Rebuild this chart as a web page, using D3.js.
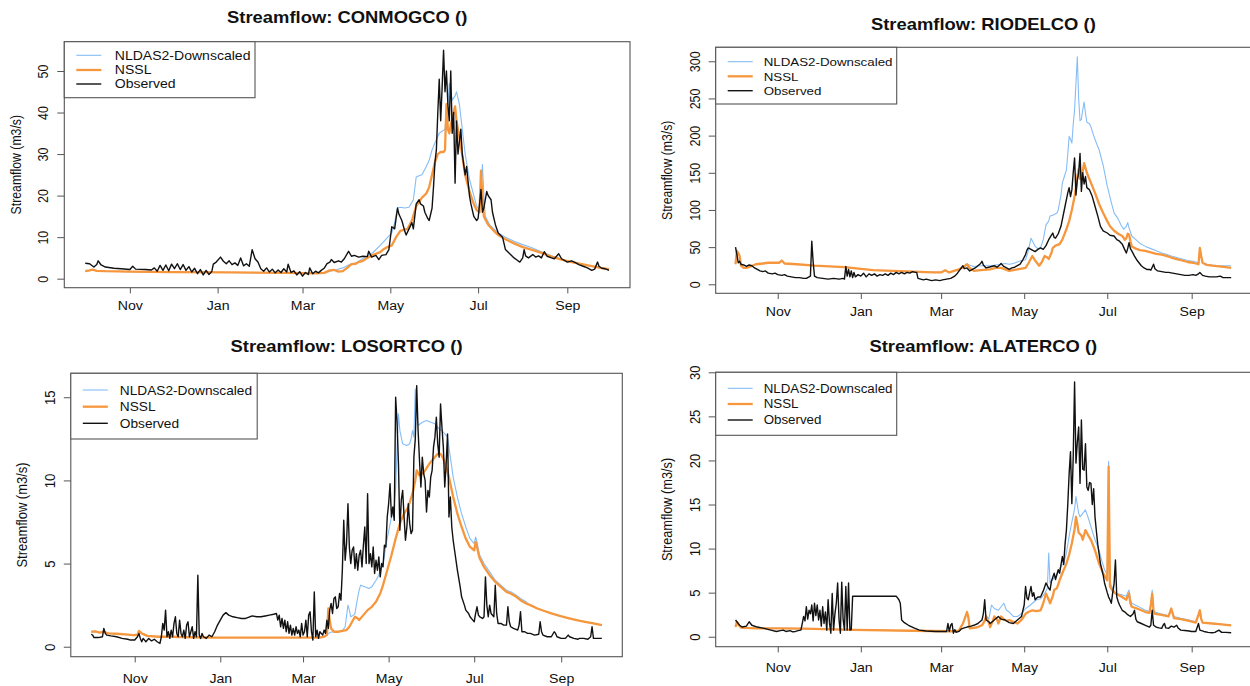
<!DOCTYPE html>
<html lang="en">
<head>
<meta charset="UTF-8">
<title>Streamflow</title>
<script src="https://d3js.org/d3.v7.min.js"></script>
<style>
  body { margin: 0; background: #fff; }
  text { font-family: "Liberation Sans", Arial, sans-serif; fill: #111; }
</style>
</head>
<body>
<svg id="chart" width="1250" height="686"></svg>
<script>
// water year Oct 2013 - Sep 2014, values as [day since Oct 1, m3/s]
var seriesNames = ["NLDAS2-Downscaled", "NSSL", "Observed"];
var monthTicks = ["2013-11-01", "2014-01-01", "2014-03-01", "2014-05-01", "2014-07-01", "2014-09-01"];

// ---- CONMOGCO
var conmogcoTicks = [0, 10, 20, 30, 40, 50];
var conmogcoObs = [[0,3.7],[3,3.6],[6,2.8],[8,3.4],[9,4.3],[11,3.3],[14,2.8],[20,2.5],[25,2.4],[31,2.2],[33,3.0],[35,2.3],[42,2.2],[46,2.1],[48,2.6],[50,1.8],[52,3.2],[54,2.0],[56,3.3],[58,1.9],[60,3.5],[62,2.4],[64,3.6],[66,2.2],[68,3.4],[70,2.0],[72,2.9],[74,1.6],[76,2.5],[78,1.2],[80,2.2],[82,0.9],[84,2.0],[86,1.0],[88,1.8],[89,3.5],[91,4.0],[94,5.2],[96,4.2],[98,3.6],[100,4.3],[102,3.4],[104,3.8],[106,3.2],[108,5.0],[110,3.1],[112,3.6],[114,3.0],[116,7.0],[118,4.8],[120,4.0],[122,2.4],[124,1.8],[126,2.6],[128,1.6],[130,2.3],[132,1.4],[134,2.1],[136,1.5],[138,2.4],[140,1.6],[141,3.5],[143,1.5],[145,1.9],[147,0.9],[149,1.7],[151,0.6],[153,1.5],[155,1.0],[156,2.6],[158,1.2],[160,1.8],[162,1.4],[164,2.0],[166,2.5],[168,3.6],[170,4.0],[171,4.6],[173,3.9],[176,4.3],[178,4.0],[180,4.8],[183,6.6],[185,5.4],[187,5.6],[190,5.2],[193,5.4],[196,5.3],[197,6.6],[199,5.2],[202,5.6],[204,4.6],[206,5.6],[209,5.8],[211,7.0],[213,12.5],[215,12.0],[217,17.0],[218,15.5],[220,14.0],[222,11.5],[223,10.5],[225,12.0],[227,13.5],[228,12.0],[230,18.0],[232,19.0],[233,18.0],[235,17.5],[236,16.0],[238,14.5],[239,14.0],[241,17.0],[242,22.0],[243,28.0],[244,31.0],[245,40.0],[246,48.0],[247,38.0],[248,46.0],[249,55.0],[250,45.0],[251,50.0],[252,42.0],[253,38.0],[254,50.0],[255,35.0],[256,40.0],[257,23.0],[258,38.0],[259,30.0],[260,33.0],[261,36.0],[262,30.0],[264,25.0],[265,27.0],[267,20.0],[268,18.0],[270,15.0],[272,14.0],[273,14.5],[275,21.5],[276,16.0],[277,17.0],[279,21.0],[280,20.0],[282,19.0],[283,16.0],[285,13.0],[287,11.0],[290,10.0],[292,7.0],[295,6.0],[298,5.0],[300,4.5],[302,4.0],[304,5.0],[305,7.0],[306,5.5],[308,5.0],[311,5.8],[313,5.2],[315,5.5],[317,5.0],[319,6.5],[321,5.4],[324,5.0],[326,4.8],[329,6.0],[331,4.8],[335,4.0],[338,4.3],[341,3.8],[343,3.4],[346,3.0],[349,2.6],[352,2.0],[354,2.3],[356,4.0],[357,3.0],[359,2.5],[361,2.4],[364,2.0]];
var conmogcoNssl = [[0,1.8],[3,2.0],[5,2.2],[8,1.9],[14,1.8],[31,1.7],[60,1.6],[100,1.5],[140,1.4],[160,1.3],[166,1.4],[170,2.0],[173,2.1],[176,1.7],[179,1.8],[182,2.6],[185,3.5],[188,3.6],[190,4.0],[193,4.3],[196,5.0],[199,5.6],[202,6.0],[205,6.4],[207,7.0],[210,7.6],[213,8.0],[216,10.0],[219,11.5],[222,11.8],[224,12.0],[227,14.0],[230,17.5],[232,18.5],[234,19.5],[237,20.5],[239,22.0],[241,25.0],[243,28.0],[245,30.0],[247,30.5],[249,30.5],[250,31.0],[251,42.0],[252,36.0],[253,35.0],[254,37.0],[256,40.0],[257,41.5],[258,38.0],[260,34.0],[261,32.0],[264,25.0],[267,21.0],[270,18.0],[272,16.5],[274,16.0],[275,26.0],[276,20.0],[277,15.0],[280,13.0],[284,11.5],[287,10.5],[292,9.5],[298,8.5],[304,7.6],[310,7.0],[317,6.2],[324,5.3],[331,4.6],[338,4.0],[345,3.5],[352,3.0],[358,2.6],[364,2.3]];
var conmogcoNldas = [[0,1.8],[3,2.0],[5,2.2],[8,1.9],[14,1.8],[31,1.7],[60,1.6],[100,1.5],[140,1.4],[160,1.3],[166,1.4],[170,1.8],[175,2.2],[179,2.6],[183,3.3],[188,3.8],[192,4.6],[196,5.5],[200,6.3],[205,8.0],[209,9.5],[213,11.0],[215,13.5],[217,17.0],[219,17.2],[222,17.0],[225,17.2],[228,19.0],[230,24.5],[232,24.8],[234,25.0],[237,27.0],[239,28.5],[241,31.0],[244,33.5],[246,35.0],[248,35.5],[250,36.0],[252,42.0],[253,47.0],[255,43.0],[257,44.0],[258,45.0],[260,42.0],[262,36.0],[264,30.0],[267,24.0],[270,20.0],[272,17.5],[274,16.5],[276,27.5],[277,20.0],[278,15.0],[281,13.0],[284,12.0],[287,11.0],[292,10.0],[298,9.0],[304,8.2],[310,7.5],[317,6.5],[324,5.5],[331,4.7],[338,4.0],[345,3.5],[352,3.0],[358,2.6],[364,2.3]];

// ---- RIODELCO
var riodelcoTicks = [0, 50, 100, 150, 200, 250, 300];
var riodelcoObs = [[0,50],[1,40],[2,29],[3,31],[4,27],[6,26],[8,24],[10,26],[12,25],[14,22],[16,20],[18,18],[20,17],[22,18],[24,15],[27,14],[29,15],[31,13],[34,12],[36,13],[38,11],[41,10],[44,9],[47,9],[50,8],[52,8],[54,10],[55,11],[56,58],[57,30],[58,11],[60,9],[64,8],[68,7],[72,8],[76,7],[79,8],[80,7],[81,24],[82,11],[83,20],[84,10],[85,18],[86,9],[87,16],[88,10],[90,13],[92,11],[94,15],[96,10],[98,14],[100,12],[102,14],[104,11],[106,13],[108,12],[110,14],[112,12],[114,15],[116,13],[118,16],[120,14],[122,16],[124,14],[126,16],[128,15],[130,17],[132,16],[133,16],[134,8],[136,7],[138,6],[140,7],[142,6],[144,5],[147,6],[150,5],[152,6],[155,7],[158,8],[161,11],[163,15],[165,20],[167,25],[168,21],[170,22],[172,18],[174,20],[176,22],[178,25],[180,28],[181,31],[182,26],[184,22],[186,23],[188,24],[190,25],[192,23],[194,26],[195,28],[197,24],[199,22],[201,20],[203,22],[205,23],[207,25],[209,27],[211,33],[213,40],[214,46],[215,49],[217,47],[218,46],[220,44],[222,47],[224,49],[226,47],[228,52],[230,60],[232,66],[233,69],[234,63],[235,62],[237,68],[239,78],[240,87],[242,105],[244,123],[245,130],[246,118],[247,127],[248,150],[249,170],[250,120],[251,140],[252,150],[253,176],[254,125],[255,150],[256,135],[257,145],[258,130],[260,127],[262,118],[264,105],[266,92],[268,78],[270,72],[273,69],[275,66],[278,65],[280,60],[282,58],[284,54],[286,46],[287,42],[288,48],[289,56],[290,48],[291,45],[293,38],[295,32],[298,25],[300,22],[302,20],[304,20],[305,19],[307,27],[308,21],[310,18],[313,17],[316,16],[318,16],[321,15],[324,14],[327,13],[330,12],[333,12],[336,13],[338,12],[340,14],[341,16],[343,12],[345,11],[348,10],[351,10],[353,10],[356,11],[358,9],[361,9],[364,9]];
var riodelcoNssl = [[0,27],[1,45],[2,42],[3,38],[4,25],[6,22],[8,22],[11,24],[15,27],[20,28],[24,29],[28,29],[32,29],[34,32],[36,28],[45,27],[58,25],[80,23],[101,19],[130,17],[145,16],[151,16],[154,19],[157,16],[164,20],[168,24],[170,27],[172,22],[175,18],[180,19],[187,20],[191,22],[195,22],[198,20],[201,18],[204,19],[207,20],[210,21],[213,22],[215,28],[218,38],[220,32],[223,25],[225,30],[227,38],[229,36],[230,34],[232,42],[233,49],[235,52],[238,54],[240,60],[243,74],[245,85],[247,100],[249,118],[250,130],[251,145],[252,155],[253,142],[254,145],[255,152],[256,163],[258,150],[260,141],[262,132],[264,123],[267,108],[270,96],[273,85],[275,78],[278,72],[281,68],[284,65],[286,60],[287,62],[288,68],[289,67],[290,58],[291,51],[294,48],[297,46],[301,45],[305,43],[309,41],[313,40],[317,38],[320,36],[324,34],[328,32],[332,30],[336,29],[338,28],[340,27],[341,49],[342,38],[343,29],[346,26],[350,25],[355,24],[360,23],[364,22]];
var riodelcoNldas = [[0,27],[1,45],[2,42],[3,38],[4,25],[6,22],[8,22],[11,24],[15,27],[20,28],[24,29],[28,29],[32,29],[34,32],[36,28],[45,27],[58,25],[80,23],[101,19],[130,17],[145,16],[151,16],[154,19],[157,16],[164,20],[168,24],[170,27],[175,24],[180,25],[187,25],[191,26],[195,27],[198,28],[201,27],[204,28],[207,30],[210,32],[213,33],[215,45],[217,62],[219,55],[220,51],[222,48],[224,49],[226,60],[228,80],[230,85],[231,92],[233,93],[234,94],[236,96],[237,100],[239,120],[240,136],[242,148],[243,154],[244,175],[245,199],[246,195],[247,190],[248,215],[249,235],[250,270],[251,306],[252,250],[253,220],[254,222],[255,235],[256,245],[257,230],[258,218],[260,216],[261,212],[263,200],[265,190],[267,181],[270,160],[273,132],[276,110],[278,96],[281,88],[283,80],[285,74],[287,78],[288,83],[289,76],[291,65],[294,60],[297,55],[301,51],[305,48],[309,45],[313,42],[317,40],[320,38],[324,36],[328,34],[332,32],[336,31],[338,30],[340,29],[341,48],[342,36],[343,29],[346,27],[350,26],[355,25],[360,25],[364,25]];

// ---- LOSORTCO
var losortcoTicks = [0, 5, 10, 15];
var losortcoObs = [[0,0.75],[1,0.7],[2,0.55],[5,0.55],[8,0.6],[9,1.1],[10,0.8],[11,0.7],[14,0.65],[18,0.6],[22,0.5],[26,0.45],[28,0.4],[31,0.4],[33,0.6],[34,0.8],[35,0.5],[36,0.3],[37,0.5],[39,0.3],[41,0.5],[43,0.35],[45,0.45],[47,0.3],[49,0.2],[50,0.6],[51,1.4],[52,1.0],[53,2.2],[54,0.6],[55,0.9],[56,0.5],[57,1.0],[58,0.6],[59,1.4],[60,1.8],[61,0.8],[62,0.6],[63,1.6],[64,0.8],[65,0.6],[66,1.0],[67,0.5],[68,1.3],[69,1.5],[70,0.6],[71,0.9],[72,1.2],[73,0.5],[74,0.9],[75,0.6],[76,4.3],[77,0.7],[78,0.5],[79,0.8],[80,0.6],[82,0.5],[84,0.7],[86,0.6],[88,0.9],[90,1.3],[92,1.6],[94,1.9],[96,2.05],[98,1.9],[101,1.8],[104,1.75],[107,1.7],[110,1.7],[113,1.8],[115,1.85],[118,1.8],[121,1.8],[124,1.85],[127,1.9],[130,1.95],[132,2.0],[133,1.6],[134,1.9],[135,1.2],[136,1.7],[137,1.1],[138,1.6],[139,0.9],[140,1.5],[141,0.8],[142,1.3],[143,0.7],[144,1.1],[145,0.7],[146,1.2],[147,0.8],[148,1.0],[149,0.6],[150,1.4],[151,0.7],[152,0.9],[153,1.6],[154,0.6],[155,1.9],[156,2.1],[157,0.9],[158,0.4],[159,3.3],[160,0.6],[161,1.0],[162,0.5],[163,0.9],[165,0.7],[166,1.0],[167,0.8],[168,1.6],[169,1.1],[170,2.2],[171,2.6],[172,2.0],[173,2.9],[174,3.0],[175,2.3],[176,2.4],[177,3.2],[178,2.8],[179,4.6],[180,7.6],[181,5.2],[182,6.2],[183,8.6],[184,6.0],[185,5.0],[186,5.8],[187,6.0],[188,4.7],[189,5.6],[190,4.6],[191,5.5],[192,5.8],[193,4.8],[194,6.1],[195,7.2],[196,5.0],[197,9.2],[198,5.0],[199,5.6],[200,4.8],[201,6.0],[202,4.4],[203,5.2],[204,4.6],[205,5.4],[206,4.2],[207,5.0],[208,4.8],[209,6.1],[210,6.0],[211,7.8],[212,8.6],[213,9.8],[214,7.8],[215,8.4],[216,7.6],[217,15.0],[218,13.5],[219,11.0],[220,7.0],[221,8.8],[222,9.4],[223,7.8],[224,6.4],[225,7.2],[226,8.6],[227,7.4],[228,6.8],[229,7.0],[230,11.4],[231,12.5],[232,15.7],[233,13.0],[234,11.2],[235,9.6],[236,11.4],[237,10.4],[238,10.0],[239,8.1],[240,9.4],[241,9.0],[242,10.2],[243,10.6],[244,12.0],[245,12.6],[246,13.8],[247,12.2],[248,11.4],[249,14.6],[250,13.2],[251,12.0],[252,9.6],[253,11.0],[254,12.8],[255,7.8],[256,9.0],[257,7.2],[258,6.4],[259,5.8],[261,4.6],[263,3.6],[264,3.0],[266,2.5],[267,2.2],[269,2.0],[270,1.8],[272,1.6],[273,1.5],[274,2.0],[275,2.4],[276,1.9],[277,1.8],[279,1.7],[280,1.8],[281,4.2],[282,2.5],[283,1.8],[284,2.5],[285,2.0],[287,1.8],[288,3.7],[289,2.0],[290,1.4],[292,1.4],[294,1.3],[296,1.3],[297,2.4],[298,1.5],[299,1.2],[301,1.1],[304,1.0],[305,1.3],[306,2.1],[307,0.9],[309,0.9],[311,0.8],[313,0.8],[316,0.7],[319,0.75],[320,1.5],[321,0.9],[322,0.7],[325,0.6],[328,0.6],[330,0.9],[331,0.8],[332,0.6],[335,0.5],[338,0.5],[340,0.7],[341,0.6],[344,0.5],[347,0.45],[348,0.5],[351,0.5],[354,0.45],[356,0.6],[357,1.2],[358,0.5],[361,0.5],[364,0.5]];
var losortcoNssl = [[0,0.9],[3,0.92],[6,0.85],[9,0.9],[12,0.8],[18,0.78],[24,0.74],[30,0.7],[33,0.72],[34,0.95],[36,0.8],[40,0.65],[48,0.6],[57,0.6],[70,0.57],[90,0.55],[120,0.55],[150,0.55],[163,0.55],[166,0.6],[168,0.7],[169,2.3],[170,1.6],[171,1.1],[173,0.9],[176,0.9],[179,0.95],[182,1.0],[184,1.2],[186,1.5],[188,1.8],[190,1.7],[191,1.6],[194,1.9],[197,2.2],[200,2.4],[203,2.7],[206,3.2],[208,3.7],[211,4.6],[214,5.5],[217,6.5],[220,7.4],[223,8.0],[226,8.4],[229,9.2],[231,10.0],[232,10.6],[234,10.3],[236,10.4],[238,10.6],[241,11.0],[244,11.3],[247,11.6],[249,11.6],[251,11.3],[253,10.8],[255,10.2],[258,9.0],[261,8.0],[264,7.2],[267,6.5],[270,6.0],[273,5.8],[274,6.3],[275,6.0],[276,5.6],[277,5.3],[280,4.8],[284,4.3],[288,3.9],[292,3.6],[296,3.3],[299,3.2],[303,3.0],[306,2.8],[310,2.6],[313,2.5],[318,2.3],[323,2.15],[328,2.0],[334,1.85],[340,1.72],[346,1.6],[352,1.5],[358,1.4],[364,1.3]];
var losortcoNldas = [[0,0.9],[3,0.92],[6,0.85],[9,0.9],[12,0.8],[18,0.78],[24,0.74],[30,0.7],[33,0.72],[34,0.95],[36,0.8],[40,0.65],[48,0.6],[57,0.6],[70,0.57],[90,0.55],[120,0.55],[150,0.55],[163,0.55],[166,0.6],[168,0.7],[170,0.85],[173,0.9],[176,0.9],[179,0.95],[181,1.2],[183,2.5],[184,2.2],[185,1.8],[187,1.9],[188,2.0],[190,3.0],[191,3.4],[192,3.7],[195,3.6],[198,3.5],[200,3.6],[203,4.0],[205,4.3],[208,5.0],[211,6.5],[214,7.8],[216,8.5],[217,9.5],[218,12.0],[219,14.0],[220,13.0],[222,12.2],[225,12.1],[227,12.2],[228,12.5],[229,13.0],[230,12.6],[231,15.5],[232,14.0],[233,13.3],[236,13.5],[239,13.6],[242,13.5],[245,13.4],[248,13.1],[250,13.0],[252,12.8],[254,12.6],[255,12.0],[256,11.4],[258,10.2],[261,9.0],[264,8.0],[267,7.2],[270,6.5],[273,6.2],[274,6.6],[275,6.3],[276,5.8],[277,5.5],[280,5.0],[284,4.5],[288,4.0],[292,3.7],[296,3.4],[299,3.3],[303,3.1],[306,2.9],[310,2.7],[313,2.5],[318,2.3],[323,2.15],[328,2.0],[334,1.85],[340,1.72],[346,1.6],[352,1.5],[358,1.4],[364,1.3]];

// ---- ALATERCO
var alatercoTicks = [0, 5, 10, 15, 20, 25, 30];
var alatercoObs = [[0,1.9],[1,1.7],[3,1.3],[5,1.1],[8,1.2],[10,1.7],[11,1.5],[12,1.3],[16,1.1],[21,0.95],[26,0.75],[30,0.6],[33,0.7],[35,0.75],[37,0.6],[40,0.7],[42,0.55],[44,0.6],[46,0.7],[48,0.75],[49,1.5],[50,2.3],[51,1.8],[52,3.4],[53,2.0],[54,3.0],[55,2.6],[56,3.6],[57,1.8],[58,3.8],[59,2.4],[60,3.6],[61,1.9],[62,3.0],[63,1.2],[64,3.4],[65,1.5],[66,2.8],[67,0.75],[68,4.2],[69,1.6],[70,0.4],[71,4.9],[72,0.75],[73,2.6],[74,3.8],[75,6.1],[76,2.0],[77,0.4],[78,6.2],[79,2.0],[80,0.75],[81,5.7],[82,0.75],[83,6.1],[84,0.75],[85,0.8],[86,4.6],[118,4.6],[120,4.2],[121,3.8],[122,1.9],[124,1.6],[127,1.3],[131,1.0],[135,0.75],[140,0.65],[147,0.6],[155,0.6],[156,1.5],[157,0.6],[158,1.3],[159,1.5],[160,0.4],[161,0.8],[162,0.5],[164,0.6],[166,0.9],[168,1.0],[170,1.1],[173,1.2],[175,1.3],[178,1.5],[181,1.9],[182,2.6],[183,4.2],[184,1.9],[186,1.7],[187,1.5],[190,1.9],[193,2.3],[195,2.0],[198,1.9],[201,1.6],[204,1.5],[207,1.9],[210,2.3],[212,3.6],[213,5.7],[214,4.4],[215,4.2],[216,5.0],[217,5.7],[218,4.6],[219,5.0],[220,4.2],[222,4.5],[224,4.5],[226,5.2],[228,6.1],[230,5.5],[231,5.3],[232,6.3],[234,7.2],[235,6.5],[237,7.6],[238,7.2],[240,9.1],[241,8.2],[242,10.5],[243,12.1],[244,15.0],[245,18.5],[246,21.0],[247,15.1],[248,20.4],[249,28.9],[250,19.7],[251,22.0],[252,23.8],[253,17.4],[254,24.6],[255,19.0],[256,18.9],[257,21.9],[258,17.0],[259,16.6],[260,17.5],[261,17.4],[262,15.0],[263,16.8],[264,13.6],[265,12.0],[266,10.5],[268,8.3],[270,7.0],[271,6.1],[273,5.0],[274,4.5],[275,4.2],[276,3.8],[277,5.0],[278,6.0],[279,8.7],[280,4.5],[281,4.0],[282,3.6],[284,3.0],[286,2.8],[288,2.5],[290,2.3],[292,2.6],[293,3.0],[294,2.0],[295,1.7],[298,1.5],[301,1.3],[304,1.1],[305,1.3],[306,3.0],[307,1.3],[309,1.1],[311,1.0],[313,0.95],[314,1.3],[315,1.5],[316,1.0],[318,0.95],[320,1.2],[322,1.1],[324,1.3],[325,1.0],[327,0.75],[330,0.7],[333,0.65],[335,0.6],[338,0.6],[340,1.5],[341,0.75],[344,0.6],[347,0.5],[350,0.45],[352,0.5],[355,0.75],[357,0.5],[360,0.5],[364,0.45]];
var alatercoNssl = [[0,1.1],[1,1.7],[2,1.4],[4,1.05],[8,1.0],[15,0.95],[32,0.95],[50,0.92],[87,0.78],[130,0.68],[158,0.62],[164,0.7],[167,1.5],[170,2.8],[171,2.2],[172,0.95],[175,1.0],[178,1.1],[181,1.3],[183,1.8],[184,2.3],[186,1.6],[187,1.1],[189,1.8],[190,2.3],[192,2.0],[193,1.5],[195,2.3],[197,2.0],[199,1.8],[201,1.9],[204,1.7],[207,1.5],[210,1.9],[213,2.6],[215,2.8],[218,3.0],[221,2.9],[224,3.0],[226,3.8],[228,4.9],[230,4.2],[231,3.8],[233,4.6],[234,5.3],[236,5.5],[238,6.4],[240,7.2],[243,8.3],[245,9.3],[247,10.6],[249,12.2],[250,13.6],[251,12.8],[252,11.8],[254,11.5],[255,11.0],[257,12.1],[259,11.5],[261,11.0],[264,9.8],[267,8.3],[270,7.2],[273,6.4],[274,19.3],[275,5.7],[277,5.2],[279,4.9],[283,4.6],[287,4.2],[288,4.6],[289,4.9],[290,3.8],[291,3.4],[295,3.2],[301,2.8],[304,2.7],[305,3.6],[306,4.9],[307,2.9],[308,2.6],[312,2.5],[318,2.3],[320,3.2],[322,2.1],[327,2.0],[333,1.8],[338,1.6],[340,2.5],[341,3.0],[342,2.0],[343,1.6],[350,1.5],[357,1.4],[364,1.3]];
var alatercoNldas = [[0,1.1],[1,1.7],[2,1.4],[4,1.05],[8,1.0],[15,0.95],[32,0.95],[50,0.92],[87,0.78],[130,0.68],[158,0.62],[164,0.7],[167,1.5],[170,2.8],[171,2.2],[172,0.95],[175,1.0],[178,1.1],[181,1.3],[183,1.9],[184,2.4],[186,2.0],[188,3.6],[190,3.2],[193,3.0],[195,3.4],[197,3.8],[199,3.0],[201,2.8],[204,2.3],[207,2.3],[210,2.6],[213,3.2],[215,3.4],[218,3.8],[221,4.2],[224,4.3],[227,4.9],[229,5.5],[230,9.5],[231,6.1],[233,6.5],[235,6.8],[237,7.4],[239,8.0],[241,8.3],[243,9.5],[245,11.4],[247,13.0],[249,14.5],[250,15.9],[251,15.0],[252,14.0],[253,13.6],[255,14.0],[257,14.4],[259,13.5],[261,12.5],[264,11.0],[267,9.8],[269,8.6],[271,7.6],[273,7.0],[274,19.9],[275,6.1],[277,5.5],[279,4.9],[283,4.8],[287,4.6],[288,5.0],[289,5.3],[290,4.2],[291,3.8],[295,3.5],[301,3.0],[304,2.9],[305,3.8],[306,5.3],[307,3.0],[308,2.8],[312,2.6],[318,2.4],[320,3.2],[322,2.3],[327,2.1],[333,1.9],[338,1.7],[340,2.5],[341,3.0],[342,2.0],[343,1.6],[350,1.5],[357,1.4],[364,1.3]];

// layout of the four panels (the picture is stretched a bit horizontally, hence sx/sy on text)
var SX = 1.18;
var panels = [
    { site: "CONMOGCO", left: 64.3, right: 630, top: 41.7, bottom: 287.7, yDomain: [-2.17, 57.05], ticks: conmogcoTicks,
      data: [conmogcoNldas, conmogcoNssl, conmogcoObs], sy: 1.04, titleDy: 18.4, xLabDy: 22.5, legW: 190.7, legRows: [13.6, 28.3, 42.3], legH: 56, legFont: 11.9, legText: 50.5 },
    { site: "RIODELCO", left: 715.7, right: 1251, top: 47.3, bottom: 293.3, yDomain: [-12.1, 318.8], ticks: riodelcoTicks,
      data: [riodelcoNldas, riodelcoNssl, riodelcoObs], sy: 1.04, titleDy: 17.8, xLabDy: 23, legW: 181, legRows: [14.4, 29, 43.4], legH: 56.7, legFont: 11.3, legText: 48 },
    { site: "LOSORTCO", left: 70.8, right: 622.3, top: 373.3, bottom: 656.7, yDomain: [-0.6, 16.44], ticks: losortcoTicks,
      data: [losortcoNldas, losortcoNssl, losortcoObs], sy: 1.1, titleDy: 21.3, xLabDy: 26, legW: 186.4, legRows: [16.7, 33.4, 50], legH: 65.7, legFont: 11.6, legText: 49 },
    { site: "ALATERCO", left: 715.7, right: 1251, top: 372.3, bottom: 646.7, yDomain: [-1.13, 30.0], ticks: alatercoTicks,
      data: [alatercoNldas, alatercoNssl, alatercoObs], sy: 1.08, titleDy: 20.8, xLabDy: 25, legW: 181, legRows: [16, 31.7, 47.7], legH: 63, legFont: 11.3, legText: 48 }
];

var colors = ["#86bdf6", "#f6973d", "#111111"];
var widths = [1.1, 2.3, 1.4];
var start = Date.UTC(2013, 9, 1);
function dayToDate(d) { return new Date(start + d * 864e5); }

var svg = d3.select("#chart");
svg.append("rect").attr("width", 1250).attr("height", 686).attr("fill", "#fff");

panels.forEach(function (p) {
    var g = svg.append("g");

    // R style 4% padding around Oct 1 .. Sep 30
    var x = d3.scaleUtc()
        .domain([dayToDate(-14.56), dayToDate(378.56)])
        .range([p.left, p.right]);
    var y = d3.scaleLinear()
        .domain(p.yDomain)
        .range([p.bottom, p.top]);

    // lines: model runs first, observed on top
    var line = d3.line()
        .x(function (d) { return x(dayToDate(d[0])) })
        .y(function (d) { return y(d[1]) });
    g.selectAll("path.series")
        .data(p.data)
        .enter()
        .append("path")
        .attr("class", "series")
        .attr("d", function (d) { return line(d) })
        .attr("fill", "none")
        .attr("stroke", function (d, i) { return colors[i] })
        .attr("stroke-width", function (d, i) { return widths[i] })
        .attr("stroke-linejoin", "round");

    // x axis
    var xAxis = g.append("g")
        .attr("transform", "translate(0," + p.bottom + ")")
        .call(d3.axisBottom(x)
            .tickValues(monthTicks.map(function (s) { return new Date(s + "T00:00:00Z") }))
            .tickFormat(d3.utcFormat("%b"))
            .tickSize(5.7));
    xAxis.select(".domain").remove();
    xAxis.selectAll("line").attr("stroke", "#555");
    xAxis.selectAll("text")
        .attr("y", null).attr("dy", null)
        .attr("transform", "translate(0," + p.xLabDy + ") scale(" + SX + "," + p.sy + ")")
        .style("font-size", "12px")
        .style("font-family", "'Liberation Sans', Arial, sans-serif")
        .attr("fill", "#111");

    // y axis, labels parallel to the axis
    var yAxis = g.append("g")
        .attr("transform", "translate(" + p.left + ",0)")
        .call(d3.axisLeft(y).tickValues(p.ticks).tickSize(7));
    yAxis.select(".domain").remove();
    yAxis.selectAll("line").attr("stroke", "#555");
    yAxis.selectAll("text")
        .attr("x", null).attr("dy", "0.35em")
        .attr("text-anchor", "middle")
        .attr("transform", "translate(-21,0) scale(" + SX + "," + p.sy + ") rotate(-90)")
        .style("font-size", "12px")
        .style("font-family", "'Liberation Sans', Arial, sans-serif")
        .attr("fill", "#111");

    // box round the plot
    g.append("rect")
        .attr("x", p.left).attr("y", p.top)
        .attr("width", p.right - p.left).attr("height", p.bottom - p.top)
        .attr("fill", "none").attr("stroke", "#555").attr("stroke-width", 1.1);

    // y title
    g.append("text")
        .attr("transform", "translate(" + (p.left - 48.5) + "," + ((p.top + p.bottom) / 2) + ") scale(" + SX + "," + p.sy + ") rotate(-90)")
        .attr("dy", "0.35em")
        .attr("text-anchor", "middle")
        .style("font-size", "11.8px")
        .text("Streamflow (m3/s)");

    // title
    g.append("text")
        .attr("transform", "translate(" + ((p.left + p.right) / 2) + "," + (p.top - p.titleDy) + ") scale(" + SX + "," + p.sy + ")")
        .attr("text-anchor", "middle")
        .style("font-size", "15.6px")
        .style("font-weight", "bold")
        .text("Streamflow: " + p.site + " ()");

    // legend, top left
    var leg = g.append("g").attr("transform", "translate(" + p.left + "," + p.top + ")");
    leg.append("rect")
        .attr("width", p.legW).attr("height", p.legH)
        .attr("fill", "#fff").attr("stroke", "#555").attr("stroke-width", 1.1);
    var item = leg.selectAll("g.item")
        .data(seriesNames)
        .enter()
        .append("g")
        .attr("class", "item")
        .attr("transform", function (d, i) { return "translate(0," + p.legRows[i] + ")" });
    item.append("line")
        .attr("x1", 12).attr("x2", 37)
        .attr("stroke", function (d, i) { return colors[i] })
        .attr("stroke-width", function (d, i) { return widths[i] });
    item.append("text")
        .attr("transform", "translate(" + p.legText + ",0) scale(" + SX + "," + p.sy + ")")
        .attr("dy", "0.36em")
        .style("font-size", p.legFont + "px")
        .text(function (d) { return d });
});
</script>
</body>
</html>
